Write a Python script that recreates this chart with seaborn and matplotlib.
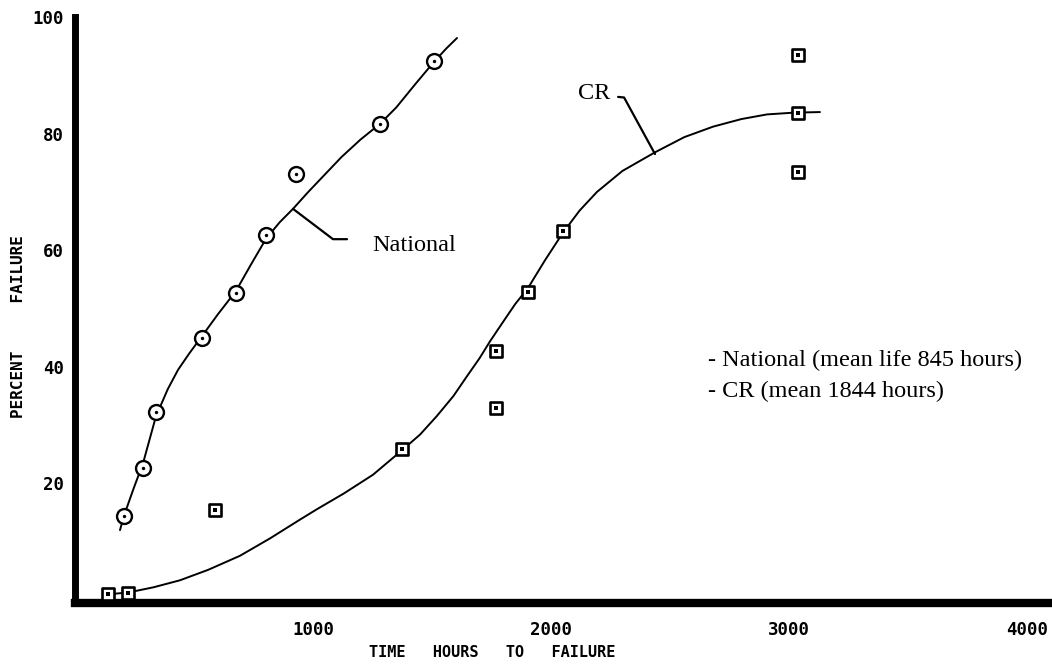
import matplotlib
matplotlib.use("Agg")
import matplotlib.pyplot as plt
import seaborn as sns
import pandas as pd

# ---- data ----
national_hours = [206, 286, 340, 534, 676, 803, 929, 1282, 1508]
national_pct = [14.5, 22.7, 32.3, 44.9, 52.7, 62.6, 73.0, 81.7, 92.5]

cr_hours = [139, 223, 588, 1374, 1769, 1769, 1903, 2050, 3038, 3038, 3038]
cr_pct = [1.0, 1.2, 15.4, 25.9, 42.8, 32.9, 52.9, 63.3, 83.6, 93.5, 73.4]

# hand-drawn fitted curves
national_curve_x = [189, 206, 245, 286, 340, 390, 433, 480, 534, 600, 676, 740, 803, 860,
                    916, 980, 1050, 1120, 1200, 1282, 1350, 1430, 1508, 1560, 1605]
national_curve_y = [12.0, 14.5, 19.0, 23.5, 31.5, 36.2, 39.5, 42.3, 45.3, 49.0, 53.0, 57.6,
                    62.0, 64.8, 67.1, 70.0, 73.0, 76.0, 79.0, 81.7, 84.5, 88.5, 92.3, 94.6, 96.4]

cr_curve_x = [139, 223, 330, 441, 560, 693, 820, 945, 1017, 1130, 1252, 1374, 1450, 1521,
              1590, 1647, 1700, 1744, 1800, 1850, 1903, 1975, 2050, 2120, 2193, 2300, 2437,
              2560, 2681, 2800, 2908, 3020, 3130]
cr_curve_y = [1.0, 1.3, 2.2, 3.4, 5.2, 7.6, 10.6, 13.8, 15.6, 18.3, 21.5, 25.7, 28.4, 31.6,
              35.0, 38.4, 41.5, 44.4, 47.8, 50.8, 53.5, 58.3, 63.0, 66.8, 70.0, 73.6, 76.8,
              79.4, 81.2, 82.5, 83.3, 83.6, 83.7]

x_ticks = [1000, 2000, 3000, 4000]
y_ticks = [20, 40, 60, 80, 100]

legend_lines = ["- National (mean life 845 hours)", "- CR (mean 1844 hours)"]

# ---- figure ----
sns.set_theme(style="white")
plt.rcParams["font.family"] = ["DejaVu Sans"]
plt.rcParams["text.color"] = "black"
plt.rcParams["axes.labelcolor"] = "black"
plt.rcParams["xtick.color"] = "black"
plt.rcParams["ytick.color"] = "black"

fig = plt.figure(figsize=(10.52, 6.65), dpi=100)
ax = fig.add_axes([0.0713, 0.0932, 0.9287, 0.8812])

nat_df = pd.DataFrame({"hours": national_hours, "pct": national_pct})
cr_df = pd.DataFrame({"hours": cr_hours, "pct": cr_pct})
natc = pd.DataFrame({"hours": national_curve_x, "pct": national_curve_y})
crc = pd.DataFrame({"hours": cr_curve_x, "pct": cr_curve_y})

sns.lineplot(data=natc, x="hours", y="pct", sort=False, color="black", lw=1.4, ax=ax, estimator=None)
sns.lineplot(data=crc, x="hours", y="pct", sort=False, color="black", lw=1.4, ax=ax, estimator=None)

sns.scatterplot(data=nat_df, x="hours", y="pct", marker="o", s=115, facecolor="white",
                edgecolor="black", linewidth=1.7, ax=ax, zorder=5)
sns.scatterplot(data=nat_df, x="hours", y="pct", marker="o", s=6, color="black", ax=ax, zorder=6, linewidth=0)
sns.scatterplot(data=cr_df, x="hours", y="pct", marker="s", s=80, facecolor="white",
                edgecolor="black", linewidth=1.9, ax=ax, zorder=5)
sns.scatterplot(data=cr_df, x="hours", y="pct", marker="s", s=6, color="black", ax=ax, zorder=6, linewidth=0)

# leader lines for the curve labels
ax.plot([916, 1084, 1143], [67.1, 61.9, 61.9], color="black", lw=1.6)
ax.plot([2282, 2307, 2437], [86.3, 86.2, 76.5], color="black", lw=1.6)

serif = ["Liberation Serif", "DejaVu Serif"]
ax.text(1248, 60.9, "National", family=serif, fontsize=17.5, ha="left", va="center", color="black")
ax.text(2180, 86.9, "CR", family=serif, fontsize=17.5, ha="center", va="center", color="black")
ax.text(2660, 41.1, legend_lines[0], family=serif, fontsize=17.5, ha="left", va="center", color="black")
ax.text(2660, 35.8, legend_lines[1], family=serif, fontsize=17.5, ha="left", va="center", color="black")

ax.set_xlim(0, 4105)
ax.set_ylim(-0.5, 100)
ax.set_xticks(x_ticks)
ax.set_yticks(y_ticks)
ax.set_xticklabels([str(t) for t in x_ticks], family="DejaVu Sans Mono", fontsize=12.5, fontweight="bold")
ax.set_yticklabels([str(t) for t in y_ticks], family="DejaVu Sans Mono", fontsize=12.5, fontweight="bold")
ax.tick_params(axis="x", direction="out", length=7, width=1.2, color="black", pad=6)
ax.tick_params(axis="y", direction="out", length=6, width=1.2, color="black", pad=2)

for side in ["top", "right"]:
    ax.spines[side].set_visible(False)
ax.spines["left"].set_linewidth(5)
ax.spines["bottom"].set_linewidth(6)
ax.spines["left"].set_color("black")
ax.spines["bottom"].set_color("black")

ax.set_xlabel("TIME   HOURS   TO   FAILURE", family="DejaVu Sans Mono", fontsize=11,
              fontweight="bold", color="black")
ax.xaxis.set_label_coords(0.427, -0.0717)
ax.set_ylabel("PERCENT     FAILURE", family="DejaVu Sans Mono", fontsize=11.5,
              fontweight="bold", color="black")
ax.yaxis.set_label_coords(-0.050, 0.471)
ax.grid(False)

fig.savefig("out.png", dpi=100)
